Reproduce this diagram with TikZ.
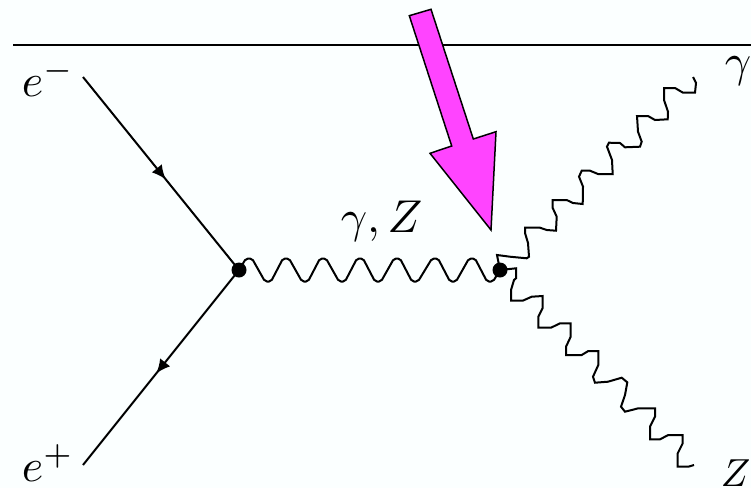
\documentclass[tikz,border=0pt]{standalone}
\usetikzlibrary{arrows.meta,decorations.markings}
\definecolor{bgc}{HTML}{FBFFFF}
\definecolor{hl}{HTML}{FF44FF}
\tikzset{
  ln/.style={line width=2pt,black},
  fermion/.style={ln,postaction={decorate},decoration={markings,mark=at position #1 with {\arrow{Latex[length=14pt,width=13pt]}}}},
  vertexdot/.style={circle,fill=black,inner sep=0pt,minimum size=15pt},
  boson/.style={ln,line join=miter},
  wave/.style={ln,rounded corners=2pt},
  lab/.style={inner sep=0pt,scale=4.6,anchor=base west},
}
\begin{document}
\begin{tikzpicture}[x=1pt,y=-1pt]
\useasboundingbox (0,0) rectangle (751,488);
\fill[bgc] (0,0) rectangle (751,488);
\coordinate (tl) at (13,45);
\coordinate (tr) at (751,45);
\draw[ln] (tl) -- (tr);
\node[vertexdot] (v1) at (239,270) {};
\node[vertexdot] (v2) at (500,270) {};
\coordinate (em) at (83,77);
\coordinate (ep) at (83,465);
\draw[fermion=0.53] (em) -- (v1.center);
\draw[fermion=0.53] (v1.center) -- (ep);
\draw[wave] (v1.center) -- (246,258.5) -- (252,258.5) -- (265,281.5) -- (271,281.5) -- (283,258.5) -- (289,258.5) -- (302,281.5) -- (308,281.5) -- (320,258.5) -- (326,258.5) -- (339,281.5) -- (345,281.5) -- (357,258.5) -- (363,258.5) -- (375,281.5) -- (381,281.5) -- (394,258.5) -- (400,258.5) -- (412,281.5) -- (418,281.5) -- (432,258.5) -- (438,258.5) -- (450,281.5) -- (456,281.5) -- (469,258.5) -- (475,258.5) -- (487,281.5) -- (493,281.5) -- (v2.center);
\coordinate (gend) at (693,77);
\coordinate (zend) at (694,465);
\draw[boson] (v2.center) -- (497,255) -- (510,256.7) -- (526.7,258.3) -- (529,256.7) -- (528,243) -- (525,233) -- (525,227.7) -- (540,227.7) -- (546.7,230) -- (556,230.7) -- (556.7,216.7) -- (552.7,208) -- (552.7,200) -- (566.7,200) -- (573,203) -- (582.7,204) -- (583,186.7) -- (579,176.7) -- (581.7,170.7) -- (590,170.7) -- (598,174) -- (612.7,174) -- (612,160) -- (607,146.7) -- (609,142.7) -- (620,143) -- (625,147.3) -- (640,146.7) -- (641.7,141.7) -- (638,131.7) -- (637,116) -- (648,116) -- (655,120) -- (667.7,119.3) -- (668,111.7) -- (664,100) -- (664,88) -- (675,88) -- (683,92.7) -- (695,92.7) -- (696,83) -- (gend);
\draw[boson] (v2.center) -- (516,268.3) -- (516,278.3) -- (514,280) -- (511,290) -- (511,300.7) -- (522.7,300.7) -- (531.7,296.7) -- (542.7,296) -- (542.7,308) -- (538.3,316.7) -- (538.3,327.7) -- (551,327.7) -- (560,323.3) -- (570.7,323.3) -- (570.7,336.7) -- (566,346.7) -- (566,355) -- (581.7,355) -- (588.3,351) -- (598.3,351) -- (598.3,365) -- (593,376.7) -- (595,382.7) -- (608,381.7) -- (621.7,377.7) -- (627.3,382.3) -- (625,395) -- (621,406.7) -- (625,411.7) -- (638.3,408.3) -- (655,408.3) -- (655,416.7) -- (650,426.7) -- (650,439.3) -- (660,439.3) -- (668.3,435) -- (682.7,435) -- (682.7,443.3) -- (677.7,453.3) -- (677.7,466.7) -- (688.3,466.7) -- (zend);
\draw[line width=1.5pt,fill=hl,line join=miter] (409.3,15.7) -- (431,9.3) -- (473.3,139) -- (496,131.7) -- (491,230) -- (430,153.3) -- (451.7,146) -- cycle;
\node[lab] (le) at (21,96) {$e^-$};
\node[lab] (lp) at (21,481) {$e^+$};
\node[lab] (lg) at (724,76) {$\gamma$};
\node[lab,scale=0.85] (lz) at (720,486) {$Z$};
\node[lab] (lm) at (340,232) {$\gamma,Z$};
\end{tikzpicture}
\end{document}
